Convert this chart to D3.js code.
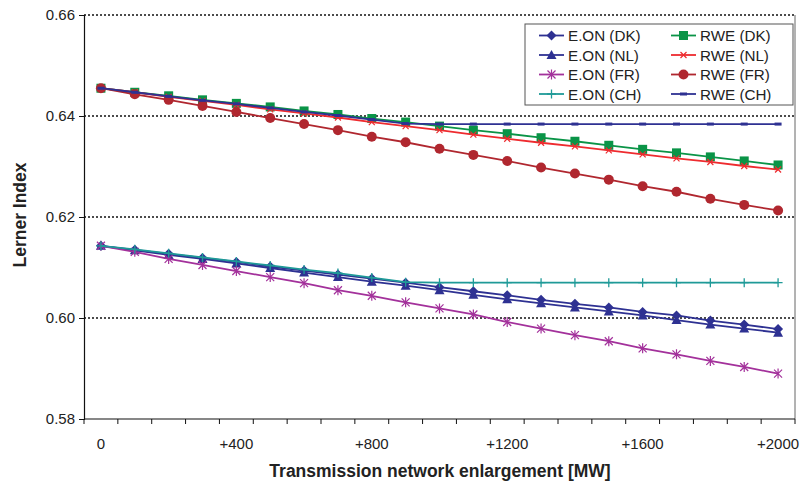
<!DOCTYPE html>
<html>
<head>
<meta charset="utf-8">
<script src="https://cdn.jsdelivr.net/npm/d3@7"></script>
<style>
  body { margin: 0; background: #fff; }
  svg { display: block; font-family: "Liberation Sans", Arial, sans-serif; }
</style>
</head>
<body>
<svg id="chart" width="803" height="488"></svg>
<script>
// categories: transmission network enlargement [MW]
var categories = [0, 100, 200, 300, 400, 500, 600, 700, 800, 900, 1000,
  1100, 1200, 1300, 1400, 1500, 1600, 1700, 1800, 1900, 2000]
var labelledCategories = [0, 400, 800, 1200, 1600, 2000]
var yTicks = [0.58, 0.60, 0.62, 0.64, 0.66]

// Lerner index values
var eonDK = [0.6143, 0.6135, 0.6127, 0.6119, 0.6111, 0.6102, 0.6094, 0.6086, 0.6078, 0.6070, 0.6061,
  0.6053, 0.6045, 0.6036, 0.6028, 0.6021, 0.6012, 0.6005, 0.5995, 0.5987, 0.5978]
var eonNL = [0.6143, 0.6134, 0.6125, 0.6117, 0.6108, 0.6099, 0.6090, 0.6081, 0.6072, 0.6064, 0.6055,
  0.6046, 0.6037, 0.6029, 0.6021, 0.6013, 0.6005, 0.5996, 0.5987, 0.5979, 0.5971]
var eonFR = [0.6143, 0.6131, 0.6117, 0.6105, 0.6093, 0.6081, 0.6069, 0.6055, 0.6044, 0.6031, 0.6019,
  0.6007, 0.5992, 0.5979, 0.5966, 0.5954, 0.5940, 0.5928, 0.5915, 0.5903, 0.5890]
var eonCH = [0.6143, 0.6136, 0.6128, 0.6120, 0.6112, 0.6104, 0.6096, 0.6089, 0.6080, 0.6071, 0.6070,
  0.6070, 0.6070, 0.6070, 0.6070, 0.6070, 0.6070, 0.6070, 0.6070, 0.6070, 0.6070]
var rweDK = [0.6455, 0.6447, 0.6440, 0.6432, 0.6425, 0.6418, 0.6410, 0.6403, 0.6395, 0.6388, 0.6380,
  0.6372, 0.6365, 0.6357, 0.6350, 0.6342, 0.6334, 0.6327, 0.6319, 0.6311, 0.6303]
var rweNL = [0.6455, 0.6447, 0.6438, 0.6430, 0.6422, 0.6413, 0.6405, 0.6397, 0.6388, 0.6380, 0.6372,
  0.6363, 0.6355, 0.6347, 0.6340, 0.6332, 0.6324, 0.6316, 0.6309, 0.6301, 0.6294]
var rweFR = [0.6455, 0.6443, 0.6432, 0.6420, 0.6408, 0.6396, 0.6384, 0.6372, 0.6359, 0.6348, 0.6335,
  0.6323, 0.6311, 0.6298, 0.6286, 0.6274, 0.6261, 0.6250, 0.6236, 0.6224, 0.6213]
var rweCH = [0.6455, 0.6447, 0.6439, 0.6431, 0.6424, 0.6416, 0.6408, 0.6401, 0.6393, 0.6385, 0.6384,
  0.6384, 0.6384, 0.6384, 0.6384, 0.6384, 0.6384, 0.6384, 0.6384, 0.6384, 0.6384]

var series = [
  { name: "E.ON (DK)", values: eonDK, color: "#2e3192", marker: "diamond", col: 0, row: 0 },
  { name: "E.ON (NL)", values: eonNL, color: "#2e3192", marker: "triangle", col: 0, row: 1 },
  { name: "E.ON (FR)", values: eonFR, color: "#a3319b", marker: "asterisk", col: 0, row: 2 },
  { name: "E.ON (CH)", values: eonCH, color: "#1f9a98", marker: "plus", col: 0, row: 3 },
  { name: "RWE (DK)", values: rweDK, color: "#0a9447", marker: "square", col: 1, row: 0 },
  { name: "RWE (NL)", values: rweNL, color: "#ee2b2f", marker: "cross", col: 1, row: 1 },
  { name: "RWE (FR)", values: rweFR, color: "#b0272f", marker: "circle", col: 1, row: 2 },
  { name: "RWE (CH)", values: rweCH, color: "#2e3192", marker: "dash", col: 1, row: 3 }
]

var svg = d3.select('#chart')
var margin = { left: 84, right: 795, top: 15, bottom: 419 }

var x = d3.scaleBand().domain(categories).range([margin.left, margin.right])
var y = d3.scaleLinear().domain([0.58, 0.66]).range([margin.bottom, margin.top])
function cx(c) { return x(c) + x.bandwidth() / 2 }

// gridlines (dotted)
svg.append('g').selectAll('line')
  .data(yTicks.filter(function (t) { return t > 0.58 }))
  .enter().append('line')
  .attr('x1', margin.left).attr('x2', margin.right)
  .attr('y1', function (d) { return y(d) }).attr('y2', function (d) { return y(d) })
  .attr('stroke', '#111').attr('stroke-width', 1.4).attr('stroke-dasharray', '2,2')

// right border
svg.append('line')
  .attr('x1', margin.right).attr('x2', margin.right)
  .attr('y1', margin.top).attr('y2', margin.bottom)
  .attr('stroke', '#666').attr('stroke-width', 1)

// y axis
var yAxis = svg.append('g')
  .attr('transform', 'translate(' + margin.left + ',0)')
  .call(d3.axisLeft(y).tickValues(yTicks).tickFormat(d3.format('.2f')).tickSize(5).tickPadding(4))
yAxis.select('.domain').attr('stroke', '#111').attr('stroke-width', 1.2)
yAxis.selectAll('.tick line').attr('stroke', '#111')
yAxis.selectAll('text').attr('font-size', 15).attr('fill', '#222')
  .attr('font-family', '"Liberation Sans", Arial, sans-serif')

// x axis: ticks between categories, labels every 400 MW
var boundaries = categories.map(function (c) { return x(c) }).concat([margin.right])
svg.append('line')
  .attr('x1', margin.left).attr('x2', margin.right)
  .attr('y1', margin.bottom).attr('y2', margin.bottom)
  .attr('stroke', '#111').attr('stroke-width', 1.2)
svg.append('g').selectAll('line').data(boundaries).enter().append('line')
  .attr('x1', function (d) { return d }).attr('x2', function (d) { return d })
  .attr('y1', margin.bottom).attr('y2', margin.bottom + 5)
  .attr('stroke', '#111')
svg.append('g').selectAll('text').data(labelledCategories).enter().append('text')
  .attr('x', function (d) { return cx(d) })
  .attr('y', 449)
  .attr('text-anchor', 'middle')
  .attr('font-size', 15).attr('fill', '#222')
  .text(function (d) { return d === 0 ? '0' : '+' + d })

// axis titles
svg.append('text')
  .attr('x', 440).attr('y', 477)
  .attr('text-anchor', 'middle')
  .attr('font-size', 17.5).attr('font-weight', 'bold').attr('fill', '#222')
  .text('Transmission network enlargement [MW]')
svg.append('text')
  .attr('transform', 'translate(26,215) rotate(-90)')
  .attr('text-anchor', 'middle')
  .attr('font-size', 17.5).attr('font-weight', 'bold').attr('fill', '#222')
  .text('Lerner Index')

// marker drawing
function drawMarker(g, type, color) {
  if (type === 'diamond') {
    g.append('path').attr('d', 'M0,-5L5,0L0,5L-5,0Z').attr('fill', color)
  } else if (type === 'triangle') {
    g.append('path').attr('d', 'M0,-5L5,4L-5,4Z').attr('fill', color)
  } else if (type === 'square') {
    g.append('rect').attr('x', -4.5).attr('y', -4.5).attr('width', 9).attr('height', 9).attr('fill', color)
  } else if (type === 'circle') {
    g.append('circle').attr('r', 5).attr('fill', color)
  } else if (type === 'asterisk') {
    g.append('path').attr('d', 'M-4,-4L4,4M-4,4L4,-4M0,-5L0,5')
      .attr('stroke', color).attr('stroke-width', 1.2).attr('fill', 'none')
  } else if (type === 'cross') {
    g.append('path').attr('d', 'M-3,-3L3,3M-3,3L3,-3')
      .attr('stroke', color).attr('stroke-width', 1.2).attr('fill', 'none')
  } else if (type === 'plus') {
    g.append('path').attr('d', 'M-4.5,0L4.5,0M0,-4.5L0,4.5')
      .attr('stroke', color).attr('stroke-width', 1.3).attr('fill', 'none')
  } else if (type === 'dash') {
    g.append('rect').attr('x', -3.5).attr('y', -1.5).attr('width', 7).attr('height', 3).attr('fill', color)
  }
}

var line = d3.line()
  .x(function (d, i) { return cx(categories[i]) })
  .y(function (d) { return y(d) })

var plot = svg.append('g')
series.forEach(function (s) {
  plot.append('path')
    .attr('d', line(s.values))
    .attr('fill', 'none')
    .attr('stroke', s.color)
    .attr('stroke-width', 1.8)
  s.values.forEach(function (v, i) {
    var g = plot.append('g').attr('transform', 'translate(' + cx(categories[i]) + ',' + y(v) + ')')
    drawMarker(g, s.marker, s.color)
  })
})

// legend
var legend = svg.append('g')
legend.append('rect')
  .attr('x', 525).attr('y', 24).attr('width', 268).attr('height', 81)
  .attr('fill', '#fff').attr('stroke', '#555').attr('stroke-width', 1)
var colX = [539, 671]
series.forEach(function (s) {
  var lx = colX[s.col]
  var ly = 35.5 + s.row * 19.5
  legend.append('line')
    .attr('x1', lx).attr('x2', lx + 25).attr('y1', ly).attr('y2', ly)
    .attr('stroke', s.color).attr('stroke-width', 1.8)
  drawMarker(legend.append('g').attr('transform', 'translate(' + (lx + 12.5) + ',' + ly + ')'), s.marker, s.color)
  legend.append('text')
    .attr('x', lx + 29).attr('y', ly + 5.5)
    .attr('font-size', 15.2).attr('fill', '#222')
    .text(s.name)
})
</script>
</body>
</html>
